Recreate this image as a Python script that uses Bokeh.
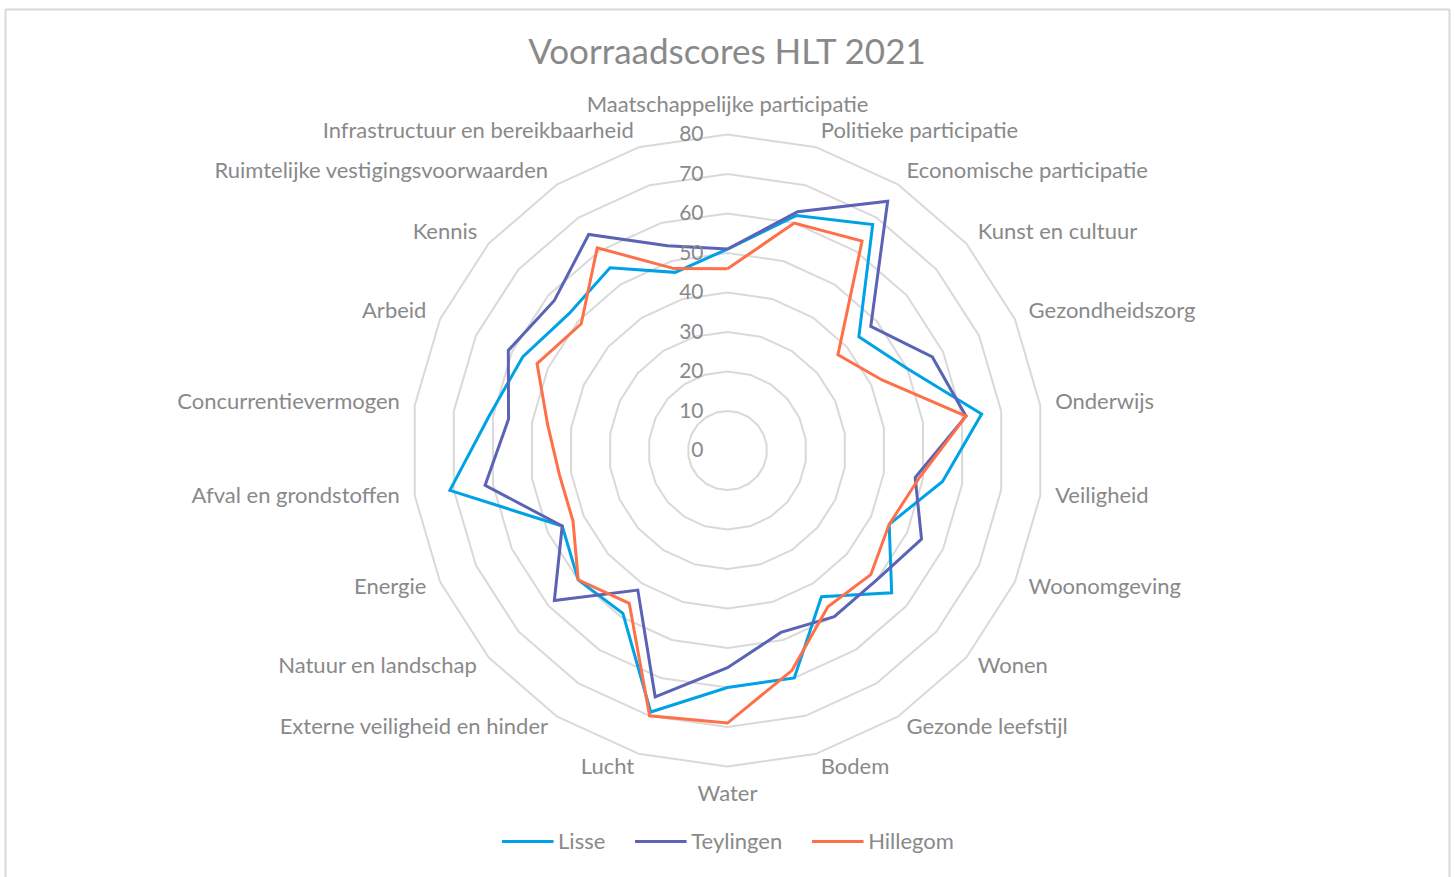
import math
from bokeh.plotting import figure
from bokeh.models import Range1d, Legend, LegendItem
from bokeh.core.properties import value
from bokeh.embed import file_html
from bokeh.resources import INLINE

# ---------------- data ----------------
categories = [
    "Maatschappelijke participatie", "Politieke participatie", "Economische participatie",
    "Kunst en cultuur", "Gezondheidszorg", "Onderwijs", "Veiligheid", "Woonomgeving",
    "Wonen", "Gezonde leefstijl", "Bodem", "Water", "Lucht",
    "Externe veiligheid en hinder", "Natuur en landschap", "Energie",
    "Afval en grondstoffen", "Concurrentievermogen", "Arbeid", "Kennis",
    "Ruimtelijke vestigingsvoorwaarden", "Infrastructuur en bereikbaarheid",
]
lisse     = [51, 62, 68, 44, 50, 65, 55, 45, 55, 44, 60, 60, 69, 49, 50, 46, 71, 61, 57, 53, 55, 47]
teylingen = [51, 63, 75, 48, 57, 61, 48, 54, 50, 50, 48, 55, 65, 42, 58, 46, 62, 56, 61, 58, 65, 54]
hillegom  = [46, 60, 63, 37, 43, 61, 49, 45, 48, 47, 58, 69, 70, 46, 50, 43, 43, 46, 53, 49, 61, 48]
series_names = ["Lisse", "Teylingen", "Hillegom"]
tick_values = [0, 10, 20, 30, 40, 50, 60, 70, 80]
title_text = "Voorraadscores HLT 2021"

# ---------------- styling / layout ----------------
W, H = 1455, 877
CX, CY = 727, 450          # chart centre in canvas pixels (from top-left)
PX = 3.95                  # pixels per value unit
FONT_NAME = "Lato"
FONT = value(FONT_NAME)
TXT = "#898989"
GRID = "#D9D9D9"
colors = ["#00A2E6", "#5B63B5", "#FF7049"]
LIFT = 3 / PX              # small upward text correction for the font's metrics

p = figure(width=W, height=H, output_backend="svg", toolbar_location=None,
           x_axis_type=None, y_axis_type=None, min_border=0,
           x_range=Range1d(-CX / PX, (W - CX) / PX),
           y_range=Range1d(-(H - CY) / PX, CY / PX))
p.grid.visible = False
p.outline_line_color = None
p.background_fill_color = "white"
p.border_fill_color = "white"


def px2data(px, py):
    return (px - CX) / PX, (CY - py) / PX


# chart-area border (left, top, right; bottom edge lies outside the view)
bx, by = zip(*[px2data(5, 900), px2data(5, 9), px2data(1449, 9), px2data(1449, 900)])
p.line(list(bx), list(by), line_color=GRID, line_width=2)

n = len(categories)
ang = [2 * math.pi * i / n for i in range(n)]


def xy(vals):
    xs = [v * math.sin(a) for v, a in zip(vals, ang)]
    ys = [v * math.cos(a) for v, a in zip(vals, ang)]
    return xs + xs[:1], ys + ys[:1]


# grid polygons
gx, gy = [], []
for t in tick_values[1:]:
    xs, ys = xy([t] * n)
    gx.append(xs)
    gy.append(ys)
p.multi_line(gx, gy, line_color=GRID, line_width=2)

# series
renderers = []
for name, vals, c in zip(series_names, [lisse, teylingen, hillegom], colors):
    xs, ys = xy(vals)
    r = p.line(xs, ys, line_color=c, line_width=3, line_join="miter")
    renderers.append(r)

# tick labels
p.text(x=[-24 / PX] * len(tick_values), y=[t + 1 / PX for t in tick_values],
       text=[str(t) for t in tick_values],
       text_font=FONT, text_font_size="21px", text_color=TXT,
       text_align="right", text_baseline="middle")

# category labels
D = 331 / PX
for cat, a in zip(categories, ang):
    s, c = math.sin(a), math.cos(a)
    if abs(s) < 1e-6:
        align = "center"
        base = "bottom" if c > 0 else "top"
    else:
        align = "left" if s > 0 else "right"
        base = "middle"
    p.text(x=[D * s], y=[D * c + LIFT], text=[cat], text_font=FONT, text_font_size="22px",
           text_color=TXT, text_align=align, text_baseline=base)

# title
p.text(x=[0], y=[(CY - 52) / PX + LIFT], text=[title_text], text_font=FONT,
       text_font_size="35px", text_color=TXT, text_align="center", text_baseline="middle")

legend = Legend(items=[LegendItem(label=nm, renderers=[r]) for nm, r in zip(series_names, renderers)],
                orientation="horizontal", location="bottom_center",
                border_line_color=None, background_fill_alpha=0,
                glyph_width=52, glyph_height=24, label_height=24,
                label_text_font=FONT_NAME, label_text_font_size="22px", label_text_color=TXT,
                label_standoff=5, spacing=29, padding=0, margin=23)
p.add_layout(legend, "center")

open("out.html", "w").write(file_html(p, INLINE))
